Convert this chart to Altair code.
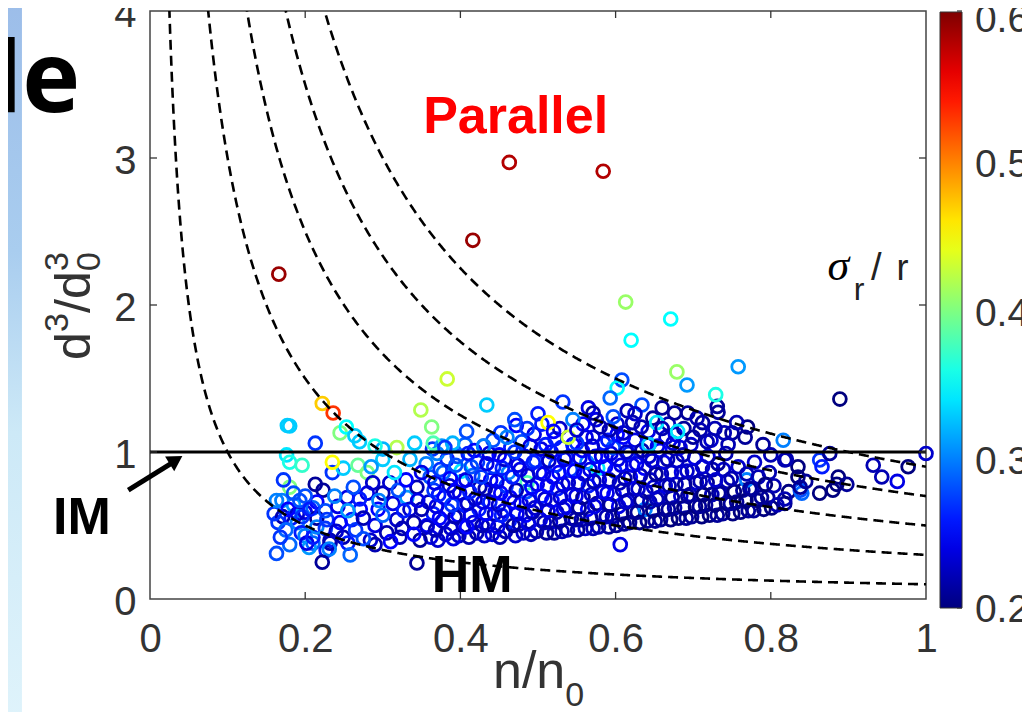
import altair as alt
import pandas as pd

# ---------------- data ----------------
x_ticks = [0, 0.2, 0.4, 0.6, 0.8, 1]
y_ticks = [0, 1, 2, 3, 4]
inner_x_ticks = [0.2, 0.4, 0.6, 0.8]
inner_y_ticks = [1, 2, 3]
cbar_labels = ["0.2", "0.3", "0.4", "0.5", "0.6"]
cbar_label_d = [-0.075, 0.932, 1.939, 2.952, 3.939]     # label centres read on the y axis
cbar_tick_d = [-0.061, 0.959, 1.973, 2.993, 4.0]        # colorbar tick positions read on the y axis
curve_c = [0.1, 0.3, 0.5, 0.7, 0.9]          # dashed iso-lines  d^3/d0^3 = c / (n/n0)
im_level = 1.0

jet_stops = [0.2, 0.25, 0.3, 0.35, 0.4, 0.45, 0.5, 0.55, 0.6]
jet_colors = ["#00007f", "#0000ff", "#0080ff", "#00ffff", "#80ff80",
              "#ffff00", "#ff8000", "#ff0000", "#7f0000"]

# (n/n0, d^3/d0^3, sigma_r/r)
band_even = [
    (0.362,0.42,0.24),(0.357,0.50,0.25),(0.365,0.58,0.26),(0.359,0.66,0.23),(0.366,0.74,0.27),(0.361,0.83,0.28),(0.356,0.92,0.30),(0.364,1.02,0.27),
    (0.381,0.44,0.23),(0.377,0.53,0.24),(0.384,0.60,0.27),(0.379,0.69,0.25),(0.386,0.77,0.23),(0.378,0.86,0.29),(0.383,0.95,0.26),(0.376,1.04,0.31),
    (0.398,0.43,0.23),(0.404,0.49,0.22),(0.397,0.57,0.25),(0.405,0.64,0.26),(0.399,0.72,0.24),(0.403,0.80,0.25),(0.401,0.87,0.34),(0.396,0.97,0.28),(0.406,1.05,0.29),
    (0.421,0.45,0.22),(0.417,0.52,0.24),(0.424,0.61,0.26),(0.419,0.68,0.23),(0.425,0.76,0.22),(0.416,0.84,0.29),(0.422,0.93,0.27),(0.418,1.01,0.25),
    (0.441,0.44,0.24),(0.436,0.50,0.23),(0.444,0.58,0.22),(0.438,0.66,0.26),(0.445,0.73,0.24),(0.439,0.81,0.25),(0.443,0.90,0.27),(0.437,0.99,0.24),(0.442,1.08,0.28),
    (0.458,0.46,0.22),(0.463,0.53,0.26),(0.456,0.60,0.24),(0.464,0.69,0.25),(0.459,0.77,0.27),(0.462,0.86,0.30),(0.457,0.95,0.23),(0.465,1.03,0.26),
    (0.481,0.45,0.23),(0.476,0.51,0.22),(0.484,0.57,0.25),(0.478,0.65,0.24),(0.485,0.73,0.28),(0.486,0.79,0.38),(0.477,0.88,0.24),(0.483,0.97,0.26),(0.479,1.07,0.28),
    (0.498,0.46,0.22),(0.503,0.54,0.24),(0.496,0.62,0.23),(0.505,0.70,0.26),(0.499,0.78,0.24),(0.502,0.86,0.25),(0.497,0.94,0.27),(0.504,1.02,0.24),
    (0.521,0.45,0.21),(0.516,0.52,0.23),(0.524,0.59,0.22),(0.518,0.67,0.25),(0.525,0.75,0.26),(0.519,0.83,0.24),(0.523,0.91,0.27),(0.517,1.00,0.25),(0.522,1.09,0.26),
    (0.538,0.47,0.22),(0.543,0.55,0.21),(0.536,0.63,0.24),(0.544,0.71,0.25),(0.539,0.79,0.23),(0.542,0.88,0.27),(0.537,0.96,0.26),(0.545,1.05,0.25),
    (0.561,0.48,0.23),(0.556,0.54,0.22),(0.564,0.61,0.25),(0.558,0.69,0.21),(0.565,0.77,0.26),(0.559,0.85,0.24),(0.563,0.93,0.30),(0.557,1.01,0.25),(0.562,1.10,0.24),
    (0.578,0.49,0.22),(0.583,0.57,0.23),(0.576,0.65,0.21),(0.584,0.73,0.25),(0.579,0.81,0.24),(0.577,0.89,0.34),(0.582,0.97,0.24),(0.585,1.06,0.26),
    (0.601,0.50,0.21),(0.596,0.56,0.22),(0.604,0.63,0.24),(0.598,0.71,0.25),(0.605,0.79,0.22),(0.599,0.87,0.26),(0.603,0.95,0.24),(0.597,1.03,0.28),(0.602,1.12,0.25),
    (0.618,0.52,0.21),(0.623,0.59,0.21),(0.616,0.67,0.23),(0.624,0.75,0.22),(0.619,0.83,0.25),(0.622,0.91,0.24),(0.617,0.99,0.26),(0.625,1.08,0.24),
    (0.641,0.53,0.21),(0.638,0.61,0.30),(0.644,0.66,0.22),(0.639,0.73,0.22),(0.645,0.81,0.23),(0.637,0.89,0.25),(0.643,0.97,0.23),(0.640,1.05,0.26),(0.642,1.14,0.24),
    (0.658,0.54,0.21),(0.663,0.61,0.21),(0.656,0.69,0.23),(0.664,0.77,0.24),(0.659,0.85,0.22),(0.662,0.93,0.24),(0.657,1.01,0.25),(0.665,1.10,0.23),
    (0.681,0.55,0.20),(0.676,0.62,0.22),(0.684,0.70,0.23),(0.678,0.78,0.22),(0.685,0.86,0.24),(0.679,0.94,0.23),(0.683,1.03,0.24),(0.677,1.12,0.24),
    (0.698,0.56,0.21),(0.703,0.63,0.20),(0.696,0.71,0.22),(0.704,0.79,0.23),(0.699,0.87,0.22),(0.702,0.96,0.24),(0.697,1.05,0.23),
    (0.721,0.57,0.20),(0.716,0.64,0.21),(0.724,0.71,0.22),(0.718,0.79,0.21),(0.725,0.88,0.22),(0.719,0.97,0.24),(0.723,1.08,0.23),
    (0.738,0.58,0.21),(0.743,0.65,0.20),(0.736,0.72,0.22),(0.744,0.80,0.22),(0.739,0.88,0.23),(0.742,0.99,0.22),
    (0.761,0.59,0.20),(0.756,0.66,0.21),(0.764,0.74,0.21),(0.769,0.81,0.30),(0.758,0.90,0.23),
    (0.778,0.60,0.21),(0.783,0.67,0.20),(0.776,0.75,0.22),(0.784,0.83,0.22),(0.779,0.93,0.23),
    (0.801,0.62,0.20),(0.796,0.69,0.21),(0.804,0.77,0.22),(0.798,0.86,0.22),
    (0.818,0.65,0.21),(0.823,0.73,0.20),(0.838,0.74,0.28),
]

band_odd = [
    (0.371,0.40,0.23),(0.368,0.47,0.22),(0.373,0.55,0.25),(0.369,0.63,0.24),(0.372,0.71,0.26),(0.367,0.79,0.24),(0.374,0.88,0.27),(0.370,0.99,0.30),
    (0.391,0.41,0.24),(0.388,0.48,0.23),(0.393,0.56,0.22),(0.389,0.64,0.27),(0.392,0.73,0.24),(0.387,0.82,0.25),(0.394,0.91,0.28),
    (0.411,0.42,0.22),(0.408,0.49,0.25),(0.413,0.57,0.24),(0.409,0.65,0.23),(0.412,0.73,0.26),(0.407,0.81,0.24),(0.414,0.90,0.28),(0.410,0.99,0.26),
    (0.431,0.43,0.23),(0.428,0.50,0.22),(0.433,0.58,0.25),(0.429,0.66,0.24),(0.432,0.75,0.22),(0.427,0.83,0.27),(0.434,0.92,0.24),(0.430,1.04,0.28),
    (0.451,0.42,0.22),(0.448,0.49,0.24),(0.453,0.57,0.26),(0.449,0.64,0.23),(0.452,0.72,0.25),(0.447,0.80,0.24),(0.454,0.89,0.26),(0.450,0.98,0.25),
    (0.471,0.43,0.23),(0.468,0.50,0.21),(0.473,0.58,0.24),(0.469,0.66,0.25),(0.472,0.74,0.22),(0.467,0.83,0.26),(0.474,0.91,0.24),(0.470,1.00,0.27),
    (0.491,0.44,0.22),(0.488,0.51,0.24),(0.493,0.59,0.22),(0.489,0.67,0.24),(0.492,0.76,0.25),(0.487,0.84,0.23),(0.494,0.93,0.26),(0.490,1.04,0.24),
    (0.511,0.45,0.21),(0.508,0.52,0.22),(0.513,0.60,0.24),(0.509,0.68,0.23),(0.512,0.77,0.25),(0.507,0.85,0.24),(0.514,0.94,0.23),(0.510,1.05,0.26),
    (0.531,0.46,0.22),(0.528,0.53,0.21),(0.533,0.61,0.24),(0.529,0.69,0.23),(0.532,0.78,0.24),(0.527,0.86,0.25),(0.534,0.95,0.24),(0.530,1.03,0.26),
    (0.551,0.47,0.21),(0.548,0.54,0.22),(0.553,0.62,0.21),(0.549,0.70,0.24),(0.552,0.79,0.23),(0.547,0.87,0.25),(0.554,0.96,0.24),(0.550,1.06,0.27),
    (0.571,0.48,0.22),(0.568,0.55,0.21),(0.573,0.63,0.24),(0.569,0.71,0.23),(0.572,0.80,0.22),(0.567,0.88,0.24),(0.574,0.97,0.25),(0.570,1.04,0.23),
    (0.591,0.49,0.21),(0.588,0.56,0.22),(0.593,0.64,0.21),(0.589,0.72,0.24),(0.592,0.81,0.23),(0.587,0.90,0.25),(0.594,0.99,0.24),(0.590,1.08,0.26),
    (0.611,0.51,0.21),(0.608,0.58,0.20),(0.613,0.66,0.23),(0.609,0.74,0.22),(0.612,0.82,0.22),(0.607,0.91,0.24),(0.614,1.00,0.23),(0.610,1.10,0.25),
    (0.631,0.52,0.20),(0.628,0.59,0.21),(0.633,0.67,0.21),(0.629,0.75,0.23),(0.632,0.84,0.22),(0.627,0.92,0.24),(0.634,1.01,0.22),
    (0.651,0.53,0.21),(0.648,0.60,0.20),(0.653,0.68,0.22),(0.649,0.76,0.23),(0.652,0.85,0.21),(0.647,0.94,0.23),(0.654,1.04,0.24),
    (0.671,0.54,0.20),(0.668,0.61,0.21),(0.673,0.69,0.21),(0.669,0.77,0.22),(0.672,0.86,0.23),(0.667,0.95,0.22),(0.674,1.06,0.23),
    (0.691,0.55,0.21),(0.688,0.62,0.20),(0.693,0.70,0.21),(0.689,0.78,0.21),(0.692,0.87,0.23),(0.687,0.98,0.22),
    (0.711,0.56,0.20),(0.708,0.63,0.21),(0.713,0.71,0.20),(0.709,0.80,0.22),(0.712,0.90,0.23),
    (0.731,0.57,0.21),(0.728,0.64,0.20),(0.733,0.72,0.21),(0.729,0.81,0.23),(0.732,0.92,0.21),
    (0.751,0.58,0.20),(0.748,0.65,0.21),(0.753,0.73,0.20),(0.749,0.82,0.22),
    (0.771,0.60,0.21),(0.768,0.67,0.20),(0.773,0.75,0.21),(0.769,0.85,0.22),
    (0.791,0.61,0.20),(0.788,0.69,0.21),(0.793,0.78,0.20),
]

band_top = [
    (0.452,1.13,0.27),(0.472,1.18,0.25),(0.495,1.12,0.24),(0.505,1.19,0.26),(0.528,1.16,0.23),(0.558,1.19,0.25),
    (0.575,1.22,0.24),(0.592,1.15,0.22),(0.602,1.19,0.23),(0.633,1.17,0.22),(0.648,1.23,0.21),(0.668,1.19,0.22),
    (0.688,1.16,0.21),(0.712,1.20,0.21),(0.728,1.16,0.22),(0.750,1.13,0.21),(0.770,1.17,0.20),(0.660,1.30,0.21),
    (0.615,1.28,0.22),(0.565,1.30,0.24),(0.500,1.26,0.26),(0.470,1.22,0.28),
]

left_pts = [
    (0.177,1.18,0.33),(0.176,0.98,0.34),(0.180,0.93,0.36),(0.196,0.91,0.37),(0.180,0.76,0.40),(0.172,0.81,0.27),
    (0.213,0.78,0.21),(0.223,0.74,0.21),(0.163,0.31,0.28),(0.165,0.52,0.27),(0.171,0.56,0.22),(0.182,0.55,0.26),
    (0.175,0.47,0.29),(0.190,0.52,0.30),(0.200,0.59,0.24),(0.210,0.62,0.29),(0.185,0.64,0.31),(0.195,0.45,0.26),
    (0.200,0.43,0.30),(0.215,0.55,0.21),(0.226,0.48,0.27),(0.210,0.38,0.29),(0.232,0.40,0.22),(0.215,0.66,0.25),
    (0.170,0.67,0.30),(0.226,0.60,0.28),(0.190,0.58,0.23),(0.200,0.70,0.28),(0.227,0.33,0.26),(0.180,0.37,0.29),
    (0.205,0.35,0.31),(0.185,0.72,0.28),(0.202,0.38,0.24),(0.210,0.42,0.26),(0.168,0.42,0.27),(0.160,0.58,0.27),
    (0.163,0.67,0.30),(0.178,0.61,0.25),(0.193,0.67,0.28),(0.196,0.56,0.27),(0.206,0.61,0.26),(0.215,0.49,0.30),
    (0.228,0.54,0.27),(0.235,0.86,0.27),(0.249,0.89,0.33),(0.268,0.91,0.39),(0.280,0.86,0.40),(0.300,0.95,0.33),
    (0.335,0.95,0.32),(0.235,0.93,0.45),(0.242,0.63,0.24),(0.254,0.69,0.24),(0.249,0.42,0.22),(0.260,0.54,0.26),
    (0.280,0.72,0.24),(0.287,0.79,0.23),(0.294,0.61,0.25),(0.300,0.72,0.22),(0.309,0.79,0.23),(0.313,0.65,0.24),
    (0.318,0.54,0.23),(0.322,0.42,0.22),(0.331,0.69,0.31),(0.335,0.61,0.23),(0.344,0.76,0.22),(0.350,0.61,0.22),
    (0.357,0.49,0.23),(0.232,0.38,0.22),(0.255,0.38,0.26),(0.284,0.40,0.23),(0.290,0.37,0.22),(0.348,0.40,0.21),
    (0.271,0.61,0.25),(0.258,0.30,0.29),(0.231,0.34,0.30),(0.245,0.52,0.25),(0.265,0.47,0.27),(0.275,0.55,0.22),
    (0.270,0.68,0.26),(0.262,0.76,0.28),(0.290,0.50,0.24),(0.305,0.45,0.22),(0.300,0.57,0.29),(0.310,0.39,0.25),
    (0.325,0.48,0.22),(0.327,0.60,0.26),(0.340,0.52,0.22),(0.345,0.67,0.24),(0.320,0.74,0.28),(0.238,0.70,0.30),
    (0.255,0.60,0.31),(0.275,0.41,0.28),(0.240,0.46,0.23),(0.295,0.67,0.30),(0.330,0.81,0.25),(0.315,0.86,0.34),
    (0.285,0.90,0.31),(0.350,0.86,0.24),(0.340,0.44,0.25),
]

upper_pts = [
    (0.245,1.13,0.40),(0.253,1.17,0.35),(0.264,1.11,0.33),(0.270,1.07,0.33),(0.213,1.06,0.27),(0.318,1.03,0.42),
    (0.341,1.06,0.33),(0.365,1.06,0.38),(0.363,1.17,0.40),(0.390,1.06,0.32),(0.380,1.03,0.27),(0.300,1.02,0.32),
    (0.290,1.04,0.36),(0.430,1.04,0.30),(0.460,1.10,0.30),(0.408,1.14,0.28),(0.434,1.32,0.33),(0.349,1.286,0.42),
    (0.383,1.497,0.43),(0.180,1.177,0.33),(0.222,1.33,0.47),(0.236,1.265,0.53),(0.486,1.16,0.27),(0.513,1.20,0.45),
    (0.539,1.10,0.43),(0.545,1.22,0.30),(0.571,1.10,0.24),(0.597,1.24,0.28),(0.571,1.265,0.21),(0.532,1.34,0.27),
    (0.608,1.49,0.28),(0.602,1.435,0.35),(0.593,1.367,0.29),(0.634,1.32,0.28),(0.622,1.20,0.22),(0.653,1.20,0.34),
    (0.680,1.14,0.34),(0.643,1.05,0.33),(0.676,1.265,0.21),(0.693,1.265,0.21),(0.705,1.23,0.22),(0.709,1.15,0.22),
    (0.718,1.07,0.22),(0.731,1.31,0.21),(0.732,1.27,0.21),(0.756,1.20,0.22),(0.767,1.10,0.21),(0.745,1.05,0.22),
    (0.729,1.39,0.36),(0.758,1.58,0.31),(0.679,1.545,0.41),(0.692,1.456,0.31),(0.889,1.36,0.20),(0.613,2.02,0.41),
    (0.671,1.905,0.35),(0.620,1.76,0.35),(0.416,2.44,0.59),(0.463,2.97,0.58),(0.584,2.91,0.58),(0.166,2.21,0.59),
    (0.816,1.08,0.30),(0.550,1.15,0.23),(0.580,1.17,0.22),(0.610,1.13,0.23),(0.520,1.14,0.25),(0.660,1.16,0.22),
    (0.700,1.10,0.21),(0.740,1.13,0.22),(0.790,1.05,0.21),(0.625,1.26,0.23),
]

right_pts = [
    (0.818,0.946,0.22),(0.835,0.90,0.20),(0.835,0.83,0.20),(0.840,0.72,0.29),(0.863,0.946,0.27),(0.866,0.90,0.26),
    (0.876,0.99,0.21),(0.887,0.83,0.20),(0.898,0.78,0.21),(0.885,0.78,0.20),(0.880,0.74,0.20),(0.863,0.72,0.20),
    (0.932,0.91,0.22),(0.943,0.83,0.22),(0.963,0.80,0.24),(0.977,0.90,0.20),(1.000,0.99,0.23),(0.808,0.64,0.22),
    (0.818,0.68,0.22),(0.838,0.76,0.21),(0.820,0.95,0.22),(0.800,0.98,0.22),(0.845,0.80,0.21),
]

low_pts = [(0.222,0.25,0.21),(0.344,0.245,0.21),(0.606,0.37,0.24)]

# ---------------- build ----------------
W, H = 776, 588
SANS = "Liberation Sans"
INK = "#333333"

xs = alt.Scale(domain=[0, 1], nice=False, zero=False)
ys = alt.Scale(domain=[0, 4], nice=False, zero=False)

x_axis = alt.Axis(values=x_ticks, format="~g", title=None, grid=False, ticks=False, domain=False,
                  labelFontSize=40, labelFont=SANS, labelColor=INK, labelPadding=20, labelFlush=False)
y_axis = alt.Axis(values=y_ticks, format="d", title=None, grid=False, ticks=False, domain=False,
                  labelFontSize=40, labelFont=SANS, labelColor=INK, labelPadding=14, labelFlush=False,
                  labelOffset=3)


def X(f):
    return alt.X(f, type="quantitative", scale=xs, axis=x_axis)


def Y(f):
    return alt.Y(f, type="quantitative", scale=ys, axis=y_axis)


rows = band_even + band_odd + band_top + left_pts + upper_pts + right_pts + low_pts
pts = pd.DataFrame(rows, columns=["n", "d", "s"])

points = alt.Chart(pts).mark_point(shape="circle", filled=False, size=165, strokeWidth=2.8, opacity=1).encode(
    x=X("n"),
    y=Y("d"),
    color=alt.Color("s", type="quantitative",
                    scale=alt.Scale(domain=jet_stops, range=jet_colors, clamp=True, interpolate="rgb"),
                    legend=alt.Legend(title=None, orient="none", legendX=790, legendY=1, direction="vertical",
                                      gradientLength=596, gradientThickness=22, gradientStrokeColor="#333333",
                                      gradientStrokeWidth=1, labelExpr="''", labelOpacity=0, labelFontSize=1)),
)

# colorbar labels and ticks
cb_df = pd.DataFrame({"n": [1.063] * len(cbar_labels), "d": cbar_label_d, "t": cbar_labels})
cb_labels = alt.Chart(cb_df).mark_text(align="left", baseline="middle", fontSize=39, font=SANS,
                                       color=INK).encode(x=X("n"), y=Y("d"), text="t:N")
cbt_df = pd.DataFrame({"d": cbar_tick_d})
cb_ticks = alt.Chart(cbt_df).mark_rule(color="#333333", strokeWidth=1.2).encode(
    y=Y("d"), x=alt.value(807), x2=alt.value(812))

# strip of the slide background on the left edge
strip_df = pd.DataFrame({"n": [-0.184], "n2": [-0.165], "d": [-0.85], "d2": [4.1]})
strip = alt.Chart(strip_df).mark_rect(
    color=alt.LinearGradient(gradient="linear", x1=0, x2=0, y1=0, y2=1,
                             stops=[alt.GradientStop(color="#9cbde9", offset=0),
                                    alt.GradientStop(color="#a9cdef", offset=0.35),
                                    alt.GradientStop(color="#cde9f7", offset=0.6),
                                    alt.GradientStop(color="#dff3fb", offset=1)])
).encode(x=X("n"), x2="n2", y=Y("d"), y2="d2")

curves = []
for c in curve_c:
    curves.append(
        alt.Chart(alt.sequence(0.02, 1.0005, 0.001, as_="n"))
        .transform_calculate(d=f"{c} / datum.n")
        .transform_filter("datum.d <= 4.4")
        .mark_line(color="black", strokeDash=[10, 6], strokeWidth=2.6, clip=True)
        .encode(x=X("n"), y=Y("d"))
    )

im_df = pd.DataFrame({"n": [0.0], "n2": [1.0], "d": [im_level]})
im_line = alt.Chart(im_df).mark_rule(color="black", strokeWidth=2.8).encode(x=X("n"), x2="n2", y=Y("d"))

xt_df = pd.DataFrame({"t": inner_x_ticks})
yt_df = pd.DataFrame({"t": inner_y_ticks})
tick_style = dict(color=INK, strokeWidth=1.3)
ticks = [
    alt.Chart(xt_df).mark_rule(**tick_style).encode(x=X("t"), y=alt.value(H - 7), y2=alt.value(H)),
    alt.Chart(xt_df).mark_rule(**tick_style).encode(x=X("t"), y=alt.value(0), y2=alt.value(7)),
    alt.Chart(yt_df).mark_rule(**tick_style).encode(y=Y("t"), x=alt.value(0), x2=alt.value(7)),
    alt.Chart(yt_df).mark_rule(**tick_style).encode(y=Y("t"), x=alt.value(W - 7), x2=alt.value(W)),
]


def txt(n, d, label, size, color="black", weight="normal", font=SANS, align="left",
        angle=0, style="normal", baseline="alphabetic"):
    df = pd.DataFrame({"n": [n], "d": [d]})
    return alt.Chart(df).mark_text(text=label, fontSize=size, color=color, fontWeight=weight, font=font,
                                   align=align, angle=angle, fontStyle=style, baseline=baseline).encode(
        x=X("n"), y=Y("d"))


# arrow pointing at the IM line
arrow_df = pd.DataFrame({"n": [-0.028], "d": [0.741], "n2": [0.028], "d2": [0.925]})
arrow_line = alt.Chart(arrow_df).mark_rule(color="black", strokeWidth=5).encode(
    x=X("n"), y=Y("d"), x2="n2", y2="d2")
head_df = pd.DataFrame({"n": [0.0335], "d": [0.946]})
arrow_head = alt.Chart(head_df).mark_point(shape="triangle-up", filled=True, color="black", size=300,
                                           angle=58, opacity=1).encode(x=X("n"), y=Y("d"))

texts = [
    txt(-0.090, 3.313, "de", 98, weight="bold", font="Open Sans", align="right"),
    txt(0.352, 3.17, "Parallel", 52, color="#ff0000", weight="bold"),
    txt(0.363, 0.048, "HM", 52, weight="bold"),
    txt(-0.125, 0.442, "IM", 52, weight="bold"),
    txt(0.873, 2.17, "σ", 44, font="Liberation Serif", style="italic"),
    txt(0.907, 2.034, "r", 32, color="#222222"),
    txt(0.929, 2.17, "/", 38, color="#222222"),
    txt(0.962, 2.17, "r", 36, color="#222222"),
    # x title  n/n0
    txt(0.442, -0.605, "n/n", 52, color=INK),
    txt(0.535, -0.73, "0", 34, color=INK),
    # y title  d3/d0^3 (rotated)
    txt(-0.0773, 1.626, "d", 50, color=INK, angle=270),
    txt(-0.1057, 1.816, "3", 34, color=INK, angle=270),
    txt(-0.0773, 1.946, "/d", 50, color=INK, angle=270),
    txt(-0.0644, 2.231, "0", 34, color=INK, angle=270),
    txt(-0.1057, 2.231, "3", 34, color=INK, angle=270),
]

chart = alt.layer(
    points, strip, *curves, im_line, *ticks, cb_ticks, cb_labels, arrow_line, arrow_head, *texts
).properties(
    width=W, height=H,
    autosize=alt.AutoSizeParams(type="none"),
    padding={"left": 142, "top": 3, "right": 96, "bottom": 113},
    background="white",
).configure_view(stroke="#444444", strokeWidth=1.5)

chart.save("out.html", embed_options={"renderer": "svg", "actions": False})
